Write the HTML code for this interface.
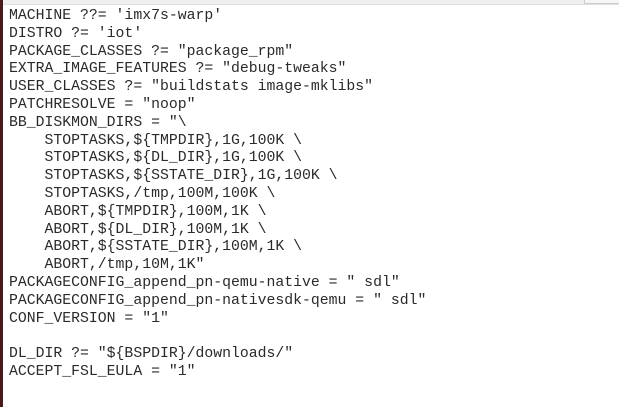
<!DOCTYPE html>
<html><head><meta charset="utf-8"><style>
html,body{margin:0;padding:0;background:#fff;}
body{width:619px;height:407px;overflow:hidden;position:relative;}
.left{position:absolute;left:0;top:0;width:3px;height:407px;background:#4a1a1a;}
.top{position:absolute;left:3px;top:0;width:616px;height:4px;background:#efefef;border-bottom:1px solid #e0e0e0;}
.box{position:absolute;left:584px;top:0;width:35px;height:3px;border:1px solid #ccc;border-top:none;background:#f6f6f6;}
pre{position:absolute;left:9px;top:8px;margin:0;font-family:"Liberation Mono",monospace;font-size:14.8px;line-height:17.8px;color:#2a2a2a;}
</style></head><body>
<div class="left"></div><div class="top"></div><div class="box"></div>
<pre>MACHINE ??= 'imx7s-warp'
DISTRO ?= 'iot'
PACKAGE_CLASSES ?= "package_rpm"
EXTRA_IMAGE_FEATURES ?= "debug-tweaks"
USER_CLASSES ?= "buildstats image-mklibs"
PATCHRESOLVE = "noop"
BB_DISKMON_DIRS = "\
    STOPTASKS,${TMPDIR},1G,100K \
    STOPTASKS,${DL_DIR},1G,100K \
    STOPTASKS,${SSTATE_DIR},1G,100K \
    STOPTASKS,/tmp,100M,100K \
    ABORT,${TMPDIR},100M,1K \
    ABORT,${DL_DIR},100M,1K \
    ABORT,${SSTATE_DIR},100M,1K \
    ABORT,/tmp,10M,1K"
PACKAGECONFIG_append_pn-qemu-native = " sdl"
PACKAGECONFIG_append_pn-nativesdk-qemu = " sdl"
CONF_VERSION = "1"

DL_DIR ?= "${BSPDIR}/downloads/"
ACCEPT_FSL_EULA = "1"</pre>
</body></html>
